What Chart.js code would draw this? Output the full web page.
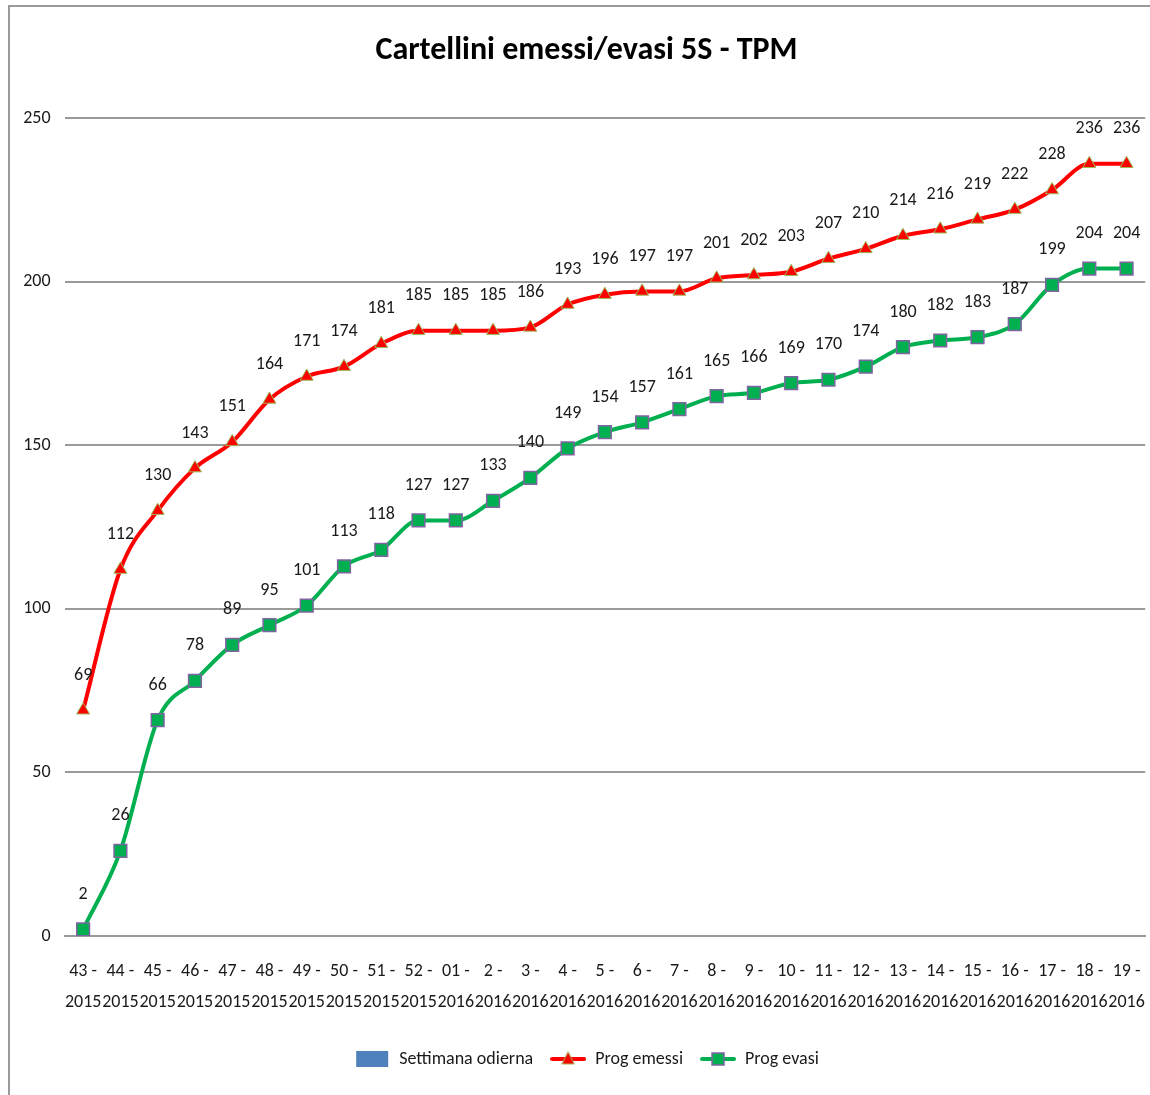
<!DOCTYPE html>
<html>
<head>
<meta charset="utf-8">
<script src="https://cdn.jsdelivr.net/npm/chart.js@4.4.1/dist/chart.umd.min.js"></script>
<style>
    body { margin: 0; background: #fff; overflow: hidden; }
    /* a bit wider than the window: the last x label padding would otherwise pull the plot in */
    .chart-box { position: absolute; left: 0; top: 0; width: 1157px; height: 1095px; }
    .frame {
        position: absolute; left: 8px; top: 5px; width: 1142px; height: 1088px;
        border-top: 2px solid #9a9a9a; border-left: 2px solid #9a9a9a;
        pointer-events: none;
    }
</style>
</head>
<body>
<div class="chart-box"><canvas id="lineChart"></canvas></div>
<div class="frame"></div>
<script>
const weeks = ['43', '44', '45', '46', '47', '48', '49', '50', '51', '52',
    '01', '2', '3', '4', '5', '6', '7', '8', '9', '10',
    '11', '12', '13', '14', '15', '16', '17', '18', '19'];
const years = ['2015', '2015', '2015', '2015', '2015', '2015', '2015', '2015', '2015', '2015',
    '2016', '2016', '2016', '2016', '2016', '2016', '2016', '2016', '2016', '2016',
    '2016', '2016', '2016', '2016', '2016', '2016', '2016', '2016', '2016'];

const settimanaOdierna = weeks.map(() => null); // no bars visible in the picture
const progEmessi = [69, 112, 130, 143, 151, 164, 171, 174, 181, 185,
    185, 185, 186, 193, 196, 197, 197, 201, 202, 203,
    207, 210, 214, 216, 219, 222, 228, 236, 236];
const progEvasi = [2, 26, 66, 78, 89, 95, 101, 113, 118, 127,
    127, 133, 140, 149, 154, 157, 161, 165, 166, 169,
    170, 174, 180, 182, 183, 187, 199, 204, 204];

const yTicks = [0, 50, 100, 150, 200, 250];

const FONT = "Carlito, 'Liberation Sans Narrow', 'DejaVu Sans Condensed', sans-serif";
const RED = '#ff0000';
const GREEN = '#00b050';
const BLUE = '#4f81bd';

// small canvases used as legend symbols (line + marker like excel)
function legendSymbol(kind) {
    const c = document.createElement('canvas');
    c.width = 36;
    c.height = 18;
    const g = c.getContext('2d');
    if (kind === 'bar') {
        g.fillStyle = BLUE;
        g.fillRect(2, 1, 32, 16);
        return c;
    }
    g.strokeStyle = kind === 'red' ? RED : GREEN;
    g.lineWidth = 4;
    g.lineCap = 'round';
    g.beginPath();
    g.moveTo(2, 9);
    g.lineTo(34, 9);
    g.stroke();
    if (kind === 'red') {
        g.fillStyle = RED;
        g.strokeStyle = '#9bbb59';
        g.lineWidth = 1;
        g.beginPath();
        g.moveTo(18, 2);
        g.lineTo(24, 14);
        g.lineTo(12, 14);
        g.closePath();
        g.fill();
        g.stroke();
    } else {
        g.fillStyle = GREEN;
        g.strokeStyle = '#8064a2';
        g.lineWidth = 1.5;
        g.fillRect(12, 3, 12, 12);
        g.strokeRect(12, 3, 12, 12);
    }
    return c;
}

const symbols = [legendSymbol('bar'), legendSymbol('red'), legendSymbol('green')];

// value labels above each point
const valueLabels = {
    id: 'valueLabels',
    afterDatasetsDraw(chart) {
        const ctx = chart.ctx;
        ctx.save();
        ctx.font = '18px ' + FONT;
        ctx.fillStyle = '#1a1a1a';
        ctx.textAlign = 'center';
        ctx.textBaseline = 'middle';
        chart.data.datasets.forEach((ds, di) => {
            if (ds.type !== 'line') return;
            const meta = chart.getDatasetMeta(di);
            meta.data.forEach((pt, i) => {
                const v = ds.data[i];
                if (v === null) return;
                ctx.fillText(String(v), pt.x, pt.y - 35);
            });
        });
        ctx.restore();
    }
};

const ctx = document.getElementById('lineChart').getContext('2d');

new Chart(ctx, {
    data: {
        labels: weeks.map((w, i) => [w + ' -', years[i]]),
        datasets: [
            {
                type: 'bar',
                label: 'Settimana odierna',
                data: settimanaOdierna,
                backgroundColor: BLUE,
                order: 3
            },
            {
                type: 'line',
                label: 'Prog emessi',
                data: progEmessi,
                borderColor: RED,
                backgroundColor: RED,
                borderWidth: 4,
                cubicInterpolationMode: 'monotone',
                pointStyle: 'triangle',
                pointRadius: 7.5,
                pointBackgroundColor: RED,
                pointBorderColor: '#9bbb59',
                pointBorderWidth: 1,
                order: 2
            },
            {
                type: 'line',
                label: 'Prog evasi',
                data: progEvasi,
                borderColor: GREEN,
                backgroundColor: GREEN,
                borderWidth: 4,
                cubicInterpolationMode: 'monotone',
                pointStyle: 'rect',
                pointRadius: 9,
                pointBackgroundColor: GREEN,
                pointBorderColor: '#8064a2',
                pointBorderWidth: 1.5,
                order: 1
            }
        ]
    },
    options: {
        responsive: true,
        maintainAspectRatio: false,
        animation: false,
        layout: {
            padding: { left: 16, right: 0, top: 0, bottom: 17 }
        },
        scales: {
            x: {
                offset: true,
                afterFit(scale) { scale.height = 97; },
                grid: { display: false },
                border: { display: true, color: '#9a9a9a', width: 2 },
                ticks: {
                    autoSkip: false,
                    maxRotation: 0,
                    minRotation: 0,
                    padding: 12,
                    color: '#1a1a1a',
                    font: { family: FONT, size: 18, lineHeight: 1.72 }
                }
            },
            y: {
                min: 0,
                max: 250,
                afterFit(scale) { scale.width = 48.5; },
                afterBuildTicks(scale) { scale.ticks = yTicks.map(v => ({ value: v })); },
                grid: { color: '#9a9a9a', lineWidth: 2, drawTicks: false },
                border: { display: false },
                ticks: {
                    padding: 14,
                    color: '#1a1a1a',
                    font: { family: FONT, size: 18 }
                }
            }
        },
        plugins: {
            title: {
                display: true,
                text: 'Cartellini emessi/evasi 5S - TPM',
                color: '#000',
                font: { family: FONT, size: 32, weight: 'bold', lineHeight: 1.2 },
                padding: { top: 32, bottom: 47.6 }
            },
            legend: {
                position: 'bottom',
                labels: {
                    usePointStyle: true,
                    pointStyleWidth: 36,
                    boxHeight: 18,
                    padding: 17,
                    color: '#1a1a1a',
                    font: { family: FONT, size: 18 },
                    generateLabels(chart) {
                        return chart.data.datasets.map((ds, i) => ({
                            text: ds.label,
                            pointStyle: symbols[i],
                            fillStyle: ds.backgroundColor,
                            strokeStyle: ds.borderColor,
                            lineWidth: 0,
                            fontColor: '#1a1a1a',
                            datasetIndex: i,
                            hidden: false
                        }));
                    }
                }
            },
            tooltip: { enabled: false }
        }
    },
    plugins: [valueLabels]
});
</script>
</body>
</html>
